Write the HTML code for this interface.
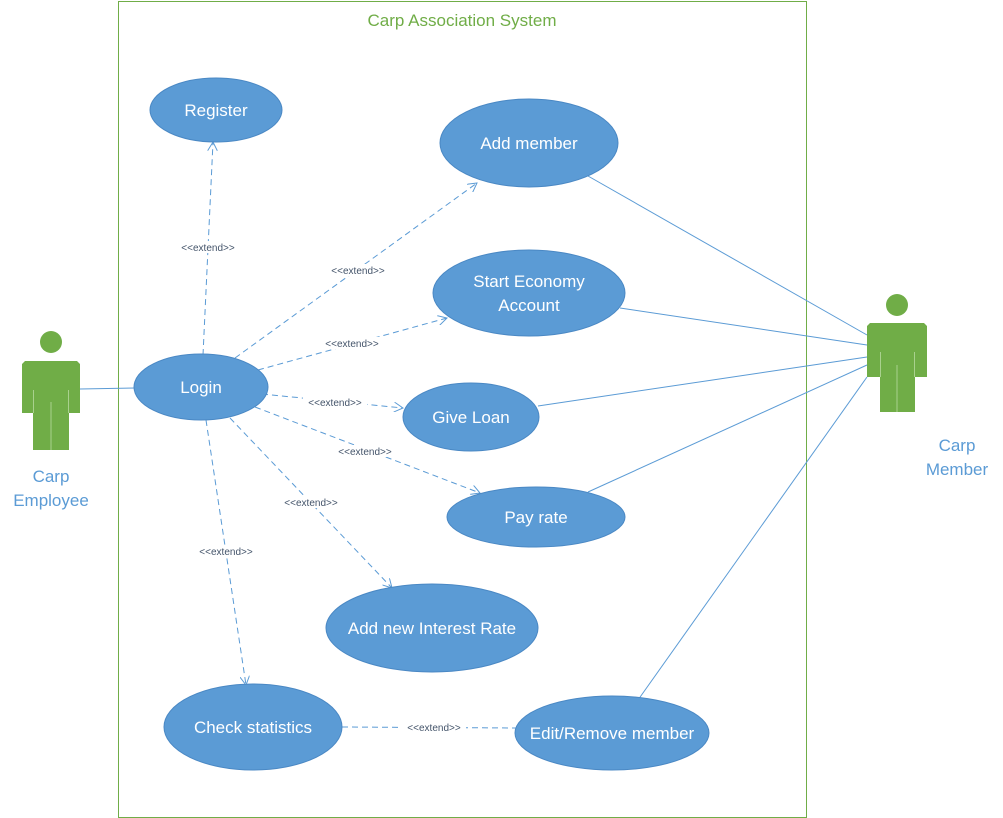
<!DOCTYPE html>
<html><head><style>body{margin:0;background:#fff}svg{display:block}</style></head><body>
<svg width="1003" height="818" xmlns="http://www.w3.org/2000/svg" font-family="Liberation Sans, sans-serif">
<defs><marker id="a" viewBox="0 0 10 10" refX="9" refY="5" markerWidth="10" markerHeight="10" orient="auto" markerUnits="userSpaceOnUse"><path d="M0,0 L9,5 L0,10" fill="none" stroke="#5b9bd5" stroke-width="1"/></marker></defs>
<rect x="118.5" y="1.5" width="688" height="816" fill="none" stroke="#70ad47" stroke-width="1"/>
<text x="462" y="26" font-size="17" fill="#70ad47" text-anchor="middle">Carp Association System</text>
<g stroke="#5b9bd5" stroke-width="1" fill="none">
<line x1="80" y1="389" x2="136" y2="388"/>
<line x1="588" y1="176" x2="867" y2="335"/>
<line x1="620" y1="308" x2="867" y2="345"/>
<line x1="538" y1="406" x2="867" y2="357"/>
<line x1="588" y1="492" x2="867" y2="365"/>
<line x1="638" y1="700" x2="867" y2="377"/>
<g stroke-dasharray="6,4" marker-end="url(#a)">
<line x1="203" y1="355" x2="213" y2="142"/>
<line x1="235" y1="358" x2="477" y2="183"/>
<line x1="258" y1="370" x2="447" y2="318"/>
<line x1="262" y1="394" x2="403" y2="408"/>
<line x1="255" y1="407" x2="480" y2="493"/>
<line x1="230" y1="418" x2="392" y2="588"/>
<line x1="206" y1="420" x2="246" y2="685"/>
</g>
<line x1="342" y1="727" x2="516" y2="728" stroke-dasharray="6,4"/>
</g>
<g font-size="10" fill="#44546a" text-anchor="middle">
<rect x="176" y="241" width="64" height="12" fill="#fff"/><text x="208" y="251">&lt;&lt;extend&gt;&gt;</text>
<rect x="326" y="264" width="64" height="12" fill="#fff"/><text x="358" y="274">&lt;&lt;extend&gt;&gt;</text>
<rect x="320" y="337" width="64" height="12" fill="#fff"/><text x="352" y="347">&lt;&lt;extend&gt;&gt;</text>
<rect x="303" y="396" width="64" height="12" fill="#fff"/><text x="335" y="406">&lt;&lt;extend&gt;&gt;</text>
<rect x="333" y="445" width="64" height="12" fill="#fff"/><text x="365" y="455">&lt;&lt;extend&gt;&gt;</text>
<rect x="279" y="496" width="64" height="12" fill="#fff"/><text x="311" y="506">&lt;&lt;extend&gt;&gt;</text>
<rect x="194" y="545" width="64" height="12" fill="#fff"/><text x="226" y="555">&lt;&lt;extend&gt;&gt;</text>
<rect x="402" y="721" width="64" height="12" fill="#fff"/><text x="434" y="731">&lt;&lt;extend&gt;&gt;</text>
</g>
<g fill="#5b9bd5" stroke="#4a88c4" stroke-width="1">
<ellipse cx="216" cy="110" rx="66" ry="32"/>
<ellipse cx="529" cy="143" rx="89" ry="44"/>
<ellipse cx="529" cy="293" rx="96" ry="43"/>
<ellipse cx="201" cy="387" rx="67" ry="33"/>
<ellipse cx="471" cy="417" rx="68" ry="34"/>
<ellipse cx="536" cy="517" rx="89" ry="30"/>
<ellipse cx="432" cy="628" rx="106" ry="44"/>
<ellipse cx="253" cy="727" rx="89" ry="43"/>
<ellipse cx="612" cy="733" rx="97" ry="37"/>
</g>
<g fill="#fff" font-size="17" text-anchor="middle">
<text x="216" y="116">Register</text>
<text x="529" y="149">Add member</text>
<text x="529" y="287">Start Economy</text>
<text x="529" y="311">Account</text>
<text x="201" y="393">Login</text>
<text x="471" y="423">Give Loan</text>
<text x="536" y="523">Pay rate</text>
<text x="432" y="634">Add new Interest Rate</text>
<text x="253" y="733">Check statistics</text>
<text x="612" y="739">Edit/Remove member</text>
</g>
<g fill="#70ad47">
<circle cx="51" cy="342" r="11"/>
<path d="M25,361 H77 L80,364 V413 H69 V450 H33 V413 H22 V364 Z"/>
<circle cx="897" cy="305" r="11"/>
<path d="M870,323 H924 L927,326 V377 H915 V412 H880 V377 H867 V326 Z"/>
</g>
<g stroke="#a9d18e" stroke-width="1">
<line x1="33.5" y1="390" x2="33.5" y2="413"/><line x1="68.5" y1="390" x2="68.5" y2="413"/><line x1="51" y1="402" x2="51" y2="450"/>
<line x1="880.5" y1="352" x2="880.5" y2="377"/><line x1="914.5" y1="352" x2="914.5" y2="377"/><line x1="897" y1="365" x2="897" y2="412"/>
</g>
<g fill="#5b9bd5" font-size="17" text-anchor="middle">
<text x="51" y="482">Carp</text><text x="51" y="506">Employee</text>
<text x="957" y="451">Carp</text><text x="957" y="475">Member</text>
</g>
</svg>
</body></html>
